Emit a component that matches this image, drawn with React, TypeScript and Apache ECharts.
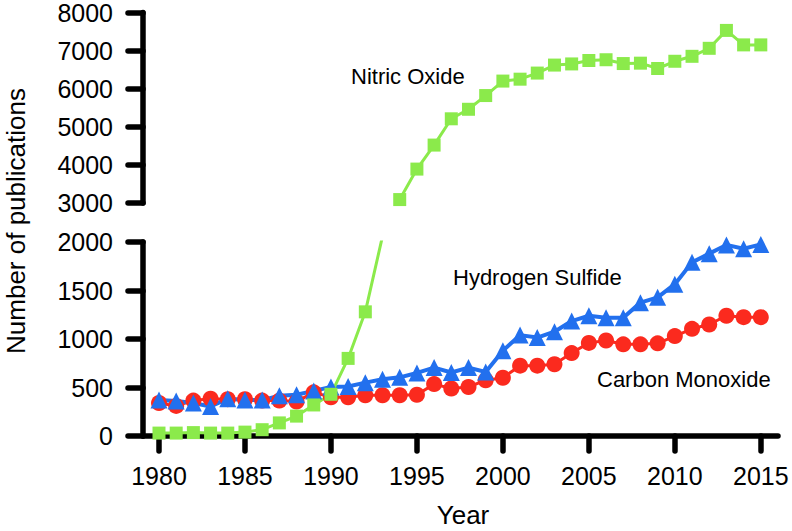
import React, { useEffect, useRef } from "react";
import * as echarts from "echarts";

const years = [
  1980, 1981, 1982, 1983, 1984, 1985, 1986, 1987, 1988, 1989,
  1990, 1991, 1992, 1993, 1994, 1995, 1996, 1997, 1998, 1999,
  2000, 2001, 2002, 2003, 2004, 2005, 2006, 2007, 2008, 2009,
  2010, 2011, 2012, 2013, 2014, 2015,
];

const nitricOxide = [
  30, 30, 35, 30, 30, 40, 65, 135, 205, 320,
  430, 800, 1280, 2060, 3090, 3890, 4520, 5210, 5460, 5820,
  6200, 6250, 6410, 6620, 6650, 6740, 6760, 6660, 6670, 6530,
  6720, 6850, 7060, 7530, 7150, 7150,
];

const hydrogenSulfide = [
  370, 360, 340, 305, 385, 370, 370, 415, 425, 465,
  505, 510, 550, 585, 605, 650, 705, 655, 705, 660,
  880, 1040, 1015, 1075, 1185, 1240, 1220, 1220, 1375, 1430,
  1565, 1790, 1880, 1970, 1930, 1975,
];

const carbonMonoxide = [
  340, 310, 365, 385, 380, 380, 365, 365, 355, 450,
  400, 400, 420, 420, 420, 425, 535, 490, 505, 575,
  600, 725, 725, 740, 855, 960, 985, 945, 945, 955,
  1030, 1105, 1150, 1240, 1225, 1225,
];

const xTicks = [1980, 1985, 1990, 1995, 2000, 2005, 2010, 2015];
const lowerTicks = [0, 500, 1000, 1500, 2000];
const upperTicks = [3000, 4000, 5000, 6000, 7000, 8000];

const BREAK_YEAR = 1993;

const GREEN = "#8BEA4B";
const RED = "#FB2A1E";
const BLUE = "#2270EE";
const FONT = "'Liberation Sans', Arial, Helvetica, sans-serif";

export default function App() {
  const ref = useRef<HTMLDivElement>(null);

  useEffect(() => {
    if (!ref.current) return;
    const chart = echarts.init(ref.current, null, { renderer: "svg" });

    const pairs = (vals: number[]) => years.map((y, i) => [y, vals[i]]);
    const noLower = years
      .map((y, i) => [y, nitricOxide[i]])
      .filter((p) => p[0] <= BREAK_YEAR);
    const noUpper = years
      .map((y, i) => [y, nitricOxide[i]])
      .filter((p) => p[0] > BREAK_YEAR);

    const axisLineStyle = { color: "#000", width: 5.5, cap: "round" as const };
    const tickStyle = { color: "#000", width: 5.5, cap: "round" as const };
    const plain = (v: number) => String(Math.round(v));

    const yAxisCommon = {
      type: "value" as const,
      axisLine: { show: true, lineStyle: axisLineStyle },
      axisTick: { show: true, length: 15, lineStyle: tickStyle },
      axisLabel: {
        color: "#000",
        fontSize: 25,
        fontFamily: FONT,
        margin: 30,
        formatter: plain,
      },
      splitLine: { show: false },
    };

    const option: any = {
      animation: false,
      backgroundColor: "#fff",
      grid: [
        { left: 143, right: 14, top: 12, height: 191 },
        { left: 143, right: 14, top: 242, height: 194 },
      ],
      xAxis: [
        {
          gridIndex: 0,
          type: "value",
          min: 1979.07,
          max: 2016.0,
          show: false,
        },
        {
          gridIndex: 1,
          type: "value",
          min: 1979.07,
          max: 2016.0,
          axisLine: { show: true, lineStyle: axisLineStyle },
          axisTick: {
            show: true,
            length: 15,
            lineStyle: tickStyle,
            customValues: xTicks,
          },
          axisLabel: {
            color: "#000",
            fontSize: 25,
            fontFamily: FONT,
            margin: 27,
            customValues: xTicks,
            formatter: plain,
          },
          splitLine: { show: false },
        },
      ],
      yAxis: [
        {
          ...yAxisCommon,
          gridIndex: 0,
          min: upperTicks[0],
          max: upperTicks[upperTicks.length - 1],
          interval: 1000,
        },
        {
          ...yAxisCommon,
          gridIndex: 1,
          min: lowerTicks[0],
          max: lowerTicks[lowerTicks.length - 1],
          interval: 500,
        },
      ],
      series: [
        {
          name: "Carbon Monoxide",
          type: "line",
          xAxisIndex: 1,
          yAxisIndex: 1,
          data: pairs(carbonMonoxide),
          symbol: "circle",
          symbolSize: 16,
          itemStyle: { color: RED },
          lineStyle: { color: RED, width: 3 },
          clip: true,
        },
        {
          name: "Hydrogen Sulfide",
          type: "line",
          xAxisIndex: 1,
          yAxisIndex: 1,
          data: pairs(hydrogenSulfide),
          symbol: "triangle",
          symbolSize: 17,
          itemStyle: { color: BLUE },
          lineStyle: { color: BLUE, width: 4 },
          clip: true,
        },
        {
          name: "Nitric Oxide",
          type: "line",
          xAxisIndex: 1,
          yAxisIndex: 1,
          data: noLower,
          symbol: "rect",
          symbolSize: 13,
          itemStyle: { color: GREEN },
          lineStyle: { color: GREEN, width: 3 },
          clip: true,
        },
        {
          name: "Nitric Oxide (upper)",
          type: "line",
          xAxisIndex: 0,
          yAxisIndex: 0,
          data: noUpper,
          symbol: "rect",
          symbolSize: 13,
          itemStyle: { color: GREEN },
          lineStyle: { color: GREEN, width: 3 },
          clip: false,
        },
      ],
      graphic: [
        {
          type: "text",
          left: 351,
          top: 65,
          style: { text: "Nitric Oxide", fontSize: 22, fontFamily: FONT, fill: "#000" },
        },
        {
          type: "text",
          left: 453,
          top: 266,
          style: { text: "Hydrogen Sulfide", fontSize: 22, fontFamily: FONT, fill: "#000" },
        },
        {
          type: "text",
          left: 597,
          top: 368,
          style: { text: "Carbon Monoxide", fontSize: 22, fontFamily: FONT, fill: "#000" },
        },
        {
          type: "text",
          x: 463,
          y: 515,
          style: {
            text: "Year",
            fontSize: 26,
            fontFamily: FONT,
            fill: "#000",
            align: "center",
            verticalAlign: "middle",
          },
        },
        {
          type: "text",
          x: 16,
          y: 221,
          rotation: Math.PI / 2,
          style: {
            text: "Number of publications",
            fontSize: 26,
            fontFamily: FONT,
            fill: "#000",
            align: "center",
            verticalAlign: "middle",
          },
        },
      ],
    };

    chart.setOption(option);
    return () => chart.dispose();
  }, []);

  return (
    <div
      ref={ref}
      style={{ position: "fixed", left: 0, top: 0, width: 792, height: 531, background: "#fff" }}
    />
  );
}
